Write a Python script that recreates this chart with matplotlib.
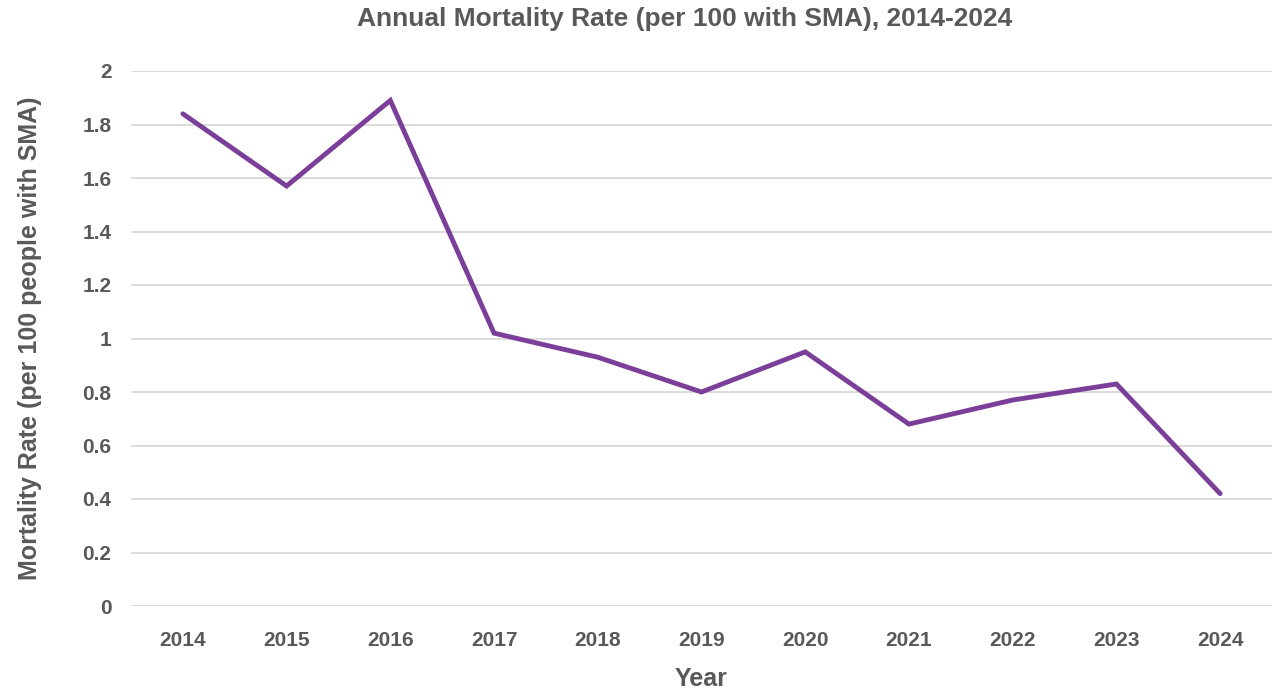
import matplotlib.pyplot as plt

years = ['2014', '2015', '2016', '2017', '2018', '2019', '2020', '2021', '2022', '2023', '2024']
mortality = [1.84, 1.57, 1.89, 1.02, 0.93, 0.80, 0.95, 0.68, 0.77, 0.83, 0.42]
y_ticks = [0, 0.2, 0.4, 0.6, 0.8, 1, 1.2, 1.4, 1.6, 1.8, 2]
y_labels = ['0', '0.2', '0.4', '0.6', '0.8', '1', '1.2', '1.4', '1.6', '1.8', '2']

text_color = '#595959'
plt.rcParams['font.family'] = ['Liberation Sans Narrow', 'Liberation Sans', 'DejaVu Sans']
plt.rcParams['font.weight'] = 'bold'

fig = plt.figure(figsize=(12.75, 6.94), dpi=100)
ax = fig.add_axes([131 / 1275, 1 - 606 / 694, 1141 / 1275, 535 / 694])

x = range(len(years))
ax.plot(x, mortality, color='#7B3F9A', linewidth=3.5, solid_joinstyle='miter', solid_capstyle='round')

ax.set_xlim(-0.5, len(years) - 0.5)
ax.set_ylim(0, 2)
ax.set_xticks(list(x))
ax.set_xticklabels(years)
ax.set_yticks(y_ticks)
ax.set_yticklabels(y_labels)
ax.tick_params(axis='both', length=0, labelsize=15, labelcolor=text_color)
ax.tick_params(axis='x', pad=18)
ax.tick_params(axis='y', pad=14)

ax.grid(axis='y', color='#d9d9d9', linewidth=1.3)
ax.set_axisbelow(True)
for s in ax.spines.values():
    s.set_visible(False)

ax.set_xlabel('Year', fontsize=18, color=text_color, fontweight='bold', labelpad=12)
ax.set_ylabel('Mortality Rate (per 100 people with SMA)', fontsize=18, color=text_color,
              fontweight='bold', labelpad=29)
fig.text(685 / 1275, 1 - 19 / 694, 'Annual Mortality Rate (per 100 with SMA), 2014-2024',
         ha='center', va='center', fontsize=19, color=text_color, fontweight='bold')

fig.savefig('out.png', dpi=100)
